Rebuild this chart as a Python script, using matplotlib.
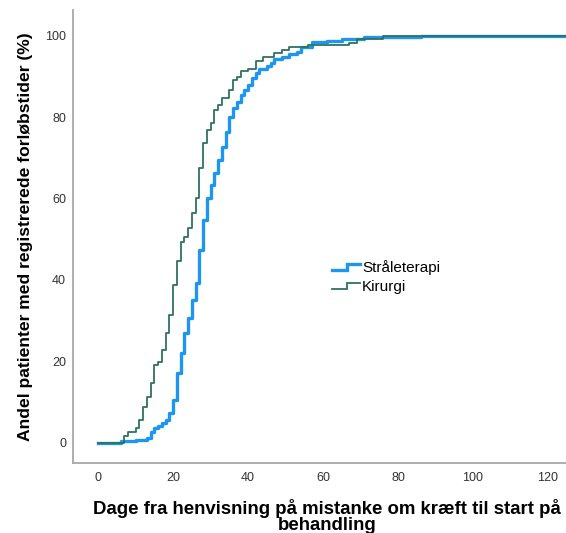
import matplotlib
matplotlib.use("Agg")
import matplotlib.pyplot as plt
from matplotlib.legend_handler import HandlerBase
from matplotlib.lines import Line2D

plt.rcParams['font.family'] = ['Liberation Sans', 'DejaVu Sans']

# Kirurgi cumulative share (%) by day (step-post)
kir_days = [0, 7, 8, 10, 11, 12, 13, 14, 15, 16, 17, 18, 19, 20, 21, 22, 23, 24, 25, 26,
            27, 28, 29, 30, 31, 32, 33, 35, 36, 37, 38, 40, 42, 44, 47, 49, 51, 56, 67, 69,
            76, 99, 125]
kir_vals = [0, 1.5, 2.7, 3.6, 5.6, 8.8, 11.3, 14.6, 19.1, 19.9, 22.8, 26.9, 31.4, 38.7, 44.5,
            49.4, 50.6, 52.7, 56.4, 60.0, 67.5, 73.6, 76.8, 78.5, 81.7, 83.0, 84.6, 86.7, 89.1,
            89.9, 91.3, 91.7, 93.8, 94.8, 95.8, 96.5, 97.1, 97.7, 98.1, 99.1, 99.8, 100, 100]

# Stråleterapi cumulative share (%) by day (step-post)
str_days = [0, 6, 10, 13, 14, 15, 16, 17, 18, 19, 20, 21, 22, 23, 24, 25, 26, 27, 28, 29,
            30, 31, 32, 33, 34, 35, 36, 37, 38, 39, 40, 41, 42, 43, 45, 46, 47, 49, 51, 53,
            54, 57, 61, 65, 71, 86, 108, 125]
str_vals = [0, 0.3, 0.6, 1.0, 2.7, 3.5, 4.0, 4.8, 5.6, 7.2, 10.5, 17.2, 22.0, 27.0, 30.6,
            35.0, 39.2, 47.3, 54.7, 60.0, 63.3, 66.2, 69.5, 72.7, 76.4, 80.1, 82.2, 83.8, 85.4,
            86.7, 87.9, 89.5, 90.8, 91.7, 92.5, 93.2, 94.2, 94.8, 95.4, 96.1, 97.3, 98.4, 98.7,
            99.2, 99.6, 99.8, 100, 100]

x_ticks = [0, 20, 40, 60, 80, 100, 120]
y_ticks = [0, 20, 40, 60, 80, 100]

BLUE = '#1E96F0'
TEAL = '#2E7262'


class StepHandler(HandlerBase):
    def create_artists(self, legend, orig_handle, xdescent, ydescent, width, height,
                       fontsize, trans):
        x0 = -xdescent
        y0 = -ydescent
        xm = x0 + width * 0.55
        ylo = y0 + height * 0.2
        yhi = y0 + height * 0.75
        line = Line2D([x0, xm, xm, x0 + width], [ylo, ylo, yhi, yhi],
                      color=orig_handle.get_color(), lw=orig_handle.get_linewidth(),
                      solid_joinstyle='miter')
        line.set_transform(trans)
        return [line]


fig = plt.figure(figsize=(5.66, 5.33), dpi=100)
ax = fig.add_axes([73 / 566, 1 - 462.5 / 533, 1 - 73 / 566, (462.5 - 10) / 533])

l1, = ax.plot(str_days, str_vals, drawstyle='steps-post', color=BLUE, lw=2.4,
              label='Stråleterapi')
l2, = ax.plot(kir_days, kir_vals, drawstyle='steps-post', color=TEAL, lw=1.3,
              label='Kirurgi')

ax.set_xlim(-6.7, 124.8)
ax.set_ylim(-4.9, 106.3)
ax.set_xticks(x_ticks)
ax.set_yticks(y_ticks)
ax.tick_params(length=0, labelsize=9, colors='#333333')
ax.tick_params(axis='y', pad=5)
ax.tick_params(axis='x', pad=7)
for s in ['top', 'right']:
    ax.spines[s].set_visible(False)
for s in ['left', 'bottom']:
    ax.spines[s].set_color('#a8a8a8')
    ax.spines[s].set_linewidth(1.3)

ax.set_ylabel('Andel patienter med registrerede forløbstider (%)', fontsize=12.6,
              fontweight='bold', color='black', labelpad=9)
ax.set_xlabel('Dage fra henvisning på mistanke om kræft til start på\nbehandling',
              fontsize=13.4, fontweight='bold', color='black', labelpad=9, linespacing=0.95)
ax.xaxis.set_label_coords(0.515, -0.08)
ax.xaxis.label.set_verticalalignment('top')

ax.legend(handles=[l1, l2], handler_map={Line2D: StepHandler()}, loc='center left',
          bbox_to_anchor=(0.51, 0.41), frameon=False, fontsize=11, handlelength=1.8,
          handletextpad=0.15, borderpad=0, labelspacing=0.3)

fig.savefig('out.png', dpi=100)
